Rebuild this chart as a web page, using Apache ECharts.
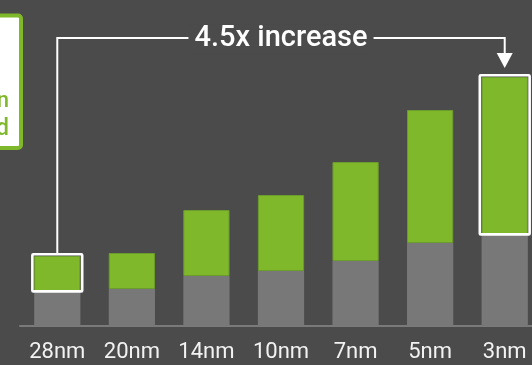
<!DOCTYPE html>
<html>
<head>
<meta charset="utf-8">
<script src="https://cdn.jsdelivr.net/npm/echarts@6/dist/echarts.min.js"></script>
<style>
  html, body { margin: 0; padding: 0; background: #4b4b4b; }
  #chart { width: 532px; height: 365px; }
</style>
</head>
<body>
<div id="chart"></div>
<script>
const categories = ['28nm', '20nm', '14nm', '10nm', '7nm', '5nm', '3nm'];
const baseCost = [35, 37, 50, 55, 65, 83, 92];
const designCost = [35, 36, 66, 76, 99, 133, 157];
const annotationText = '4.5x increase';
const highlighted = [0, 6];

const GREEN = '#7fb82a';
const GRAY = '#787878';
const BG = '#4b4b4b';
const FONT = 'Roboto, "DejaVu Sans", sans-serif';

const chartEl = document.getElementById('chart');
const chart = echarts.init(chartEl);

const option = {
    backgroundColor: BG,
    animation: false,
    grid: { left: 20, width: 522, top: 36, bottom: 39, outerBoundsMode: 'none', containLabel: false },
    xAxis: {
        type: 'category',
        data: categories,
        axisLine: { lineStyle: { color: '#7a7a7a', width: 2 } },
        axisTick: { show: false },
        axisLabel: {
            interval: 0,
            margin: 15,
            color: '#f2f2f2',
            fontSize: 22,
            fontFamily: FONT
        }
    },
    yAxis: {
        type: 'value',
        min: 0,
        max: 290,
        show: false,
        splitLine: { show: false }
    },
    series: [
        {
            type: 'bar',
            stack: 'cost',
            barWidth: '62%',
            data: baseCost,
            itemStyle: { color: GRAY }
        },
        {
            type: 'bar',
            stack: 'cost',
            barWidth: '62%',
            data: designCost,
            itemStyle: { color: GREEN, borderColor: '#6c9c2c', borderWidth: 1 }
        }
    ]
};
chart.setOption(option);

// annotation shapes placed from the chart's own scales
const toPx = (i, v) => chart.convertToPixel({ seriesIndex: 0 }, [i, v]);
const band = toPx(1, 0)[0] - toPx(0, 0)[0];
const halfW = band * 0.31;

const boxes = highlighted.map(i => {
    const top = toPx(i, baseCost[i] + designCost[i]);
    const bottom = toPx(i, baseCost[i]);
    return {
        type: 'rect',
        z: 100,
        shape: {
            x: top[0] - halfW - 1.8,
            y: top[1] - 1.8,
            width: halfW * 2 + 3.6,
            height: bottom[1] - top[1] + 2.2,
            r: 1
        },
        style: { fill: null, stroke: '#ffffff', lineWidth: 2.6 }
    };
});

const first = toPx(0, baseCost[0] + designCost[0]);
const last = toPx(6, baseCost[6] + designCost[6]);
const lineY = 38;
const arrowTip = last[1] - 9;

const graphics = boxes.concat([
    {
        type: 'polyline',
        z: 100,
        shape: { points: [[first[0], first[1] - 3], [first[0], lineY], [last[0], lineY], [last[0], arrowTip - 14]] },
        style: { stroke: '#ffffff', lineWidth: 2, fill: null }
    },
    {
        type: 'polygon',
        z: 100,
        shape: { points: [[last[0] - 8, arrowTip - 15], [last[0] + 8, arrowTip - 15], [last[0], arrowTip]] },
        style: { fill: '#ffffff' }
    },
    {
        type: 'text',
        z: 101,
        x: (first[0] + last[0]) / 2,
        y: lineY + 1,
        style: {
            text: annotationText,
            fill: '#ffffff',
            font: '500 29px ' + FONT,
            align: 'center',
            verticalAlign: 'middle',
            backgroundColor: BG,
            padding: [0, 6]
        }
    },
    {
        type: 'rect',
        z: 100,
        shape: { x: -30, y: 15.5, width: 51, height: 132.5, r: 3 },
        style: { fill: '#ffffff', stroke: GREEN, lineWidth: 4 }
    },
    {
        type: 'text',
        z: 101,
        x: 9,
        y: 101,
        style: {
            text: 'Verification',
            fill: GREEN,
            font: '500 22px ' + FONT,
            align: 'right',
            verticalAlign: 'middle'
        }
    },
    {
        type: 'text',
        z: 101,
        x: 9,
        y: 129,
        style: {
            text: 'Required',
            fill: GREEN,
            font: '500 23px ' + FONT,
            align: 'right',
            verticalAlign: 'middle'
        }
    }
]);

chart.setOption({ graphic: graphics });
</script>
</body>
</html>
